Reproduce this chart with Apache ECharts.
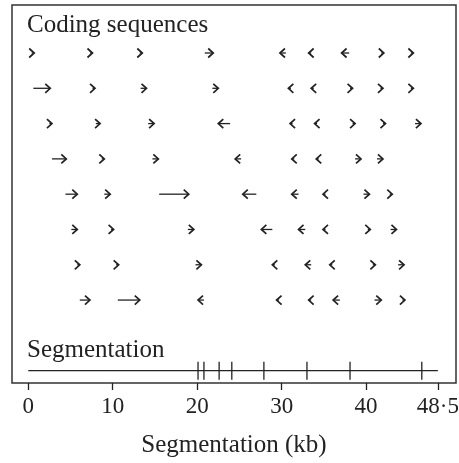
<!DOCTYPE html>
<html lang="en">
<head>
<meta charset="UTF-8">
<title>Coding sequences</title>
<script src="https://cdn.jsdelivr.net/npm/echarts@6/dist/echarts.min.js"></script>
<style>
    body { margin: 0; padding: 0; background: #fff; }
    #ec { width: 459px; height: 463px; }
</style>
</head>
<body>
<div id="ec"></div>
<script>
    // coding sequences, one list per row, each arrow = [tail, head] in kb
    const row1 = [[0.4, 0.7], [7.3, 7.6], [13.2, 13.5], [20.9, 21.9], [30.5, 29.8], [33.5, 33.2], [38.0, 37.1], [41.8, 42.1], [45.3, 45.6]];
    const row2 = [[0.6, 2.6], [7.6, 7.9], [13.3, 14.0], [21.8, 22.5], [31.1, 30.8], [33.8, 33.5], [38.1, 38.4], [41.7, 42.0], [45.3, 45.6]];
    const row3 = [[2.5, 2.8], [8.0, 8.5], [14.2, 14.9], [23.9, 22.5], [31.3, 31.0], [34.2, 33.9], [38.4, 38.7], [42.0, 42.3], [45.8, 46.5]];
    const row4 = [[2.8, 4.5], [8.7, 9.0], [14.7, 15.4], [25.2, 24.5], [31.5, 31.2], [34.4, 34.1], [38.7, 39.4], [41.3, 42.0]];
    const row5 = [[4.4, 5.8], [9.0, 9.7], [15.5, 19.0], [27.0, 25.4], [32.0, 31.2], [35.2, 34.9], [39.7, 40.4], [42.8, 43.1]];
    const row6 = [[5.1, 5.8], [9.8, 10.1], [18.9, 19.6], [28.9, 27.6], [32.8, 32.0], [35.2, 34.9], [40.2, 40.5], [42.9, 43.6]];
    const row7 = [[5.8, 6.1], [10.4, 10.7], [19.8, 20.5], [29.2, 28.9], [33.5, 32.8], [36.0, 35.7], [40.8, 41.1], [43.8, 44.5]];
    const row8 = [[6.1, 7.3], [10.6, 13.2], [20.8, 20.1], [29.7, 29.4], [33.5, 33.2], [36.9, 36.1], [41.0, 41.8], [44.3, 44.6]];

    // segmentation sites (kb) and genome length
    const segmentationSites = [20.1, 20.8, 22.6, 24.1, 27.9, 33.0, 38.1, 46.6];
    const genomeLength = 48.5;
    const tickValues = [0, 10, 20, 30, 40, 48.5];

    const rows = [row1, row2, row3, row4, row5, row6, row7, row8];
    const segRow = 9;
    const ink = '#222';
    const serif = 'Liberation Serif';

    let arrowData = [];
    rows.forEach((r, i) => {
        r.forEach(a => arrowData.push([a[0], a[1], i]));
    });
    let siteData = segmentationSites.map(s => [s, segRow]);

    function renderArrow(params, api) {
        let t = api.coord([api.value(0), api.value(2)]);
        let h = api.coord([api.value(1), api.value(2)]);
        let d = h[0] >= t[0] ? 1 : -1;
        return {
            type: 'group',
            children: [
                {
                    type: 'line',
                    shape: {x1: t[0], y1: t[1], x2: h[0], y2: h[1]},
                    style: {stroke: ink, lineWidth: 1.3}
                },
                {
                    type: 'polyline',
                    shape: {points: [[h[0] - d * 5, h[1] - 4.5], [h[0], h[1]], [h[0] - d * 5, h[1] + 4.5]]},
                    style: {stroke: ink, lineWidth: 1.7, fill: null}
                }
            ]
        };
    }

    function renderSite(params, api) {
        let p = api.coord([api.value(0), api.value(1)]);
        return {
            type: 'line',
            shape: {x1: p[0], y1: p[1] - 9, x2: p[0], y2: p[1] + 9},
            style: {stroke: ink, lineWidth: 1.3}
        };
    }

    let ec = echarts.init(document.getElementById('ec'));
    let option = {
        animation: false,
        grid: {
            left: 12,
            right: 3,
            top: 5,
            bottom: 80,
            show: true,
            borderColor: '#333',
            borderWidth: 1.5,
            outerBoundsMode: 'none'
        },
        graphic: [
            {type: 'text', left: 27, top: 13, style: {text: 'Coding sequences', font: '25px "Liberation Serif"', fill: ink}},
            {type: 'text', left: 27, top: 338, style: {text: 'Segmentation', font: '25px "Liberation Serif"', fill: ink}}
        ],
        xAxis: {
            type: 'value',
            min: -1.93,
            max: 50.65,
            splitLine: {show: false},
            axisLine: {show: false, onZero: false},
            axisTick: {show: true, customValues: tickValues, length: 7, lineStyle: {color: ink, width: 1.3}},
            axisLabel: {
                customValues: tickValues,
                formatter: v => String(v).replace('.', '·'),
                fontFamily: serif,
                fontSize: 23,
                color: ink,
                margin: 12
            },
            name: 'Segmentation (kb)',
            nameLocation: 'middle',
            nameGap: 50,
            nameTextStyle: {fontFamily: serif, fontSize: 25, color: ink}
        },
        yAxis: {
            type: 'value',
            inverse: true,
            min: -1.36,
            max: 9.35,
            show: false
        },
        series: [
            {
                type: 'custom',
                renderItem: renderArrow,
                data: arrowData,
                silent: true
            },
            {
                type: 'line',
                data: [[0, segRow], [genomeLength, segRow]],
                symbol: 'none',
                lineStyle: {color: ink, width: 1.2},
                silent: true
            },
            {
                type: 'custom',
                renderItem: renderSite,
                data: siteData,
                silent: true
            }
        ]
    };
    ec.setOption(option);
</script>
</body>
</html>
